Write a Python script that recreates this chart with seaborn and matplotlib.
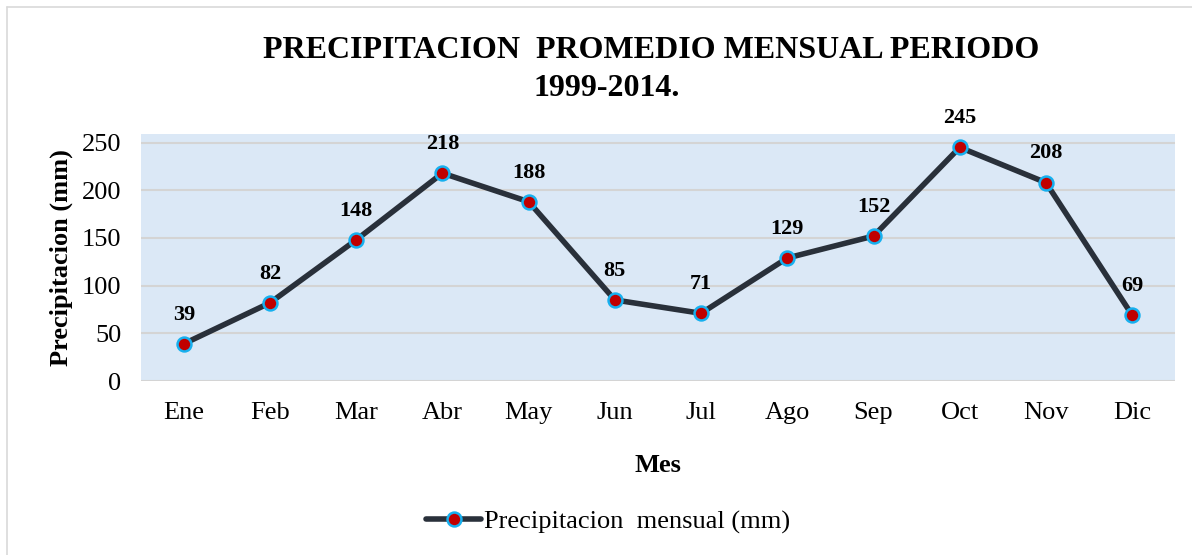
import matplotlib
matplotlib.use("Agg")
import matplotlib.pyplot as plt
import seaborn as sns
import pandas as pd
from matplotlib.lines import Line2D

meses = ["Ene", "Feb", "Mar", "Abr", "May", "Jun", "Jul", "Ago", "Sep", "Oct", "Nov", "Dic"]
precipitacion = [39, 82, 148, 218, 188, 85, 71, 129, 152, 245, 208, 69]
etiqueta_serie = "Precipitacion  mensual (mm)"
titulo_1 = "PRECIPITACION  PROMEDIO MENSUAL PERIODO"
titulo_2 = "1999-2014."

sns.set_style("white")
plt.rcParams["font.family"] = ["Liberation Serif", "DejaVu Serif"]
plt.rcParams["text.color"] = "black"
plt.rcParams["axes.labelcolor"] = "black"
plt.rcParams["xtick.color"] = "black"
plt.rcParams["ytick.color"] = "black"

df = pd.DataFrame({"Mes": meses, "Precipitacion": precipitacion})

fig = plt.figure(figsize=(11.92, 5.55), dpi=100)
ax = fig.add_axes([0.118, 0.3135, 0.868, 0.445])
ax.set_facecolor("#dbe8f6")

sns.lineplot(data=df, x="Mes", y="Precipitacion", sort=False, ax=ax,
             color="#29303a", linewidth=4, marker="o", markersize=10,
             markerfacecolor="#c00000", markeredgecolor="#16b0ef",
             markeredgewidth=1.8, label=etiqueta_serie, zorder=3)

for i, v in enumerate(precipitacion):
    ax.annotate(str(v), (i, v), xytext=(0, 21), textcoords="offset points",
                ha="center", va="center", fontsize=16, fontweight="bold")

ax.set_xlim(-0.5, 11.5)
ax.set_ylim(0, 259)
ax.set_yticks(range(0, 251, 50))
ax.yaxis.grid(True, color="#d4d4d4", linewidth=1.5)
ax.set_axisbelow(True)
for s in ax.spines.values():
    s.set_visible(False)
ax.tick_params(axis="both", labelsize=19, length=0)
ax.tick_params(axis="y", pad=14)
ax.tick_params(axis="x", pad=15)

ax.set_xlabel("Mes", fontsize=19, fontweight="bold", labelpad=22)
ax.set_ylabel("Precipitacion (mm)", fontsize=19, fontweight="bold", labelpad=6)

# titulo en dos lineas (la segunda va algo desplazada a la izquierda)
fig.text(651 / 1192, 1 - 51 / 555, titulo_1, ha="center", va="center",
         fontsize=23, fontweight="bold")
fig.text(607 / 1192, 1 - 89 / 555, titulo_2, ha="center", va="center",
         fontsize=23, fontweight="bold")

ax.legend(loc="center", bbox_to_anchor=(0.51, 0.06), bbox_transform=fig.transFigure,
          frameon=False, fontsize=19, handlelength=2.1, handletextpad=0.1)

# marco exterior del grafico
fig.add_artist(Line2D([7 / 1192, 7 / 1192], [0, 1 - 7 / 555], transform=fig.transFigure,
                      color="#d9d9d9", linewidth=1.2))
fig.add_artist(Line2D([7 / 1192, 1], [1 - 7 / 555, 1 - 7 / 555], transform=fig.transFigure,
                      color="#d9d9d9", linewidth=1.2))

fig.savefig("out.png", dpi=100)
